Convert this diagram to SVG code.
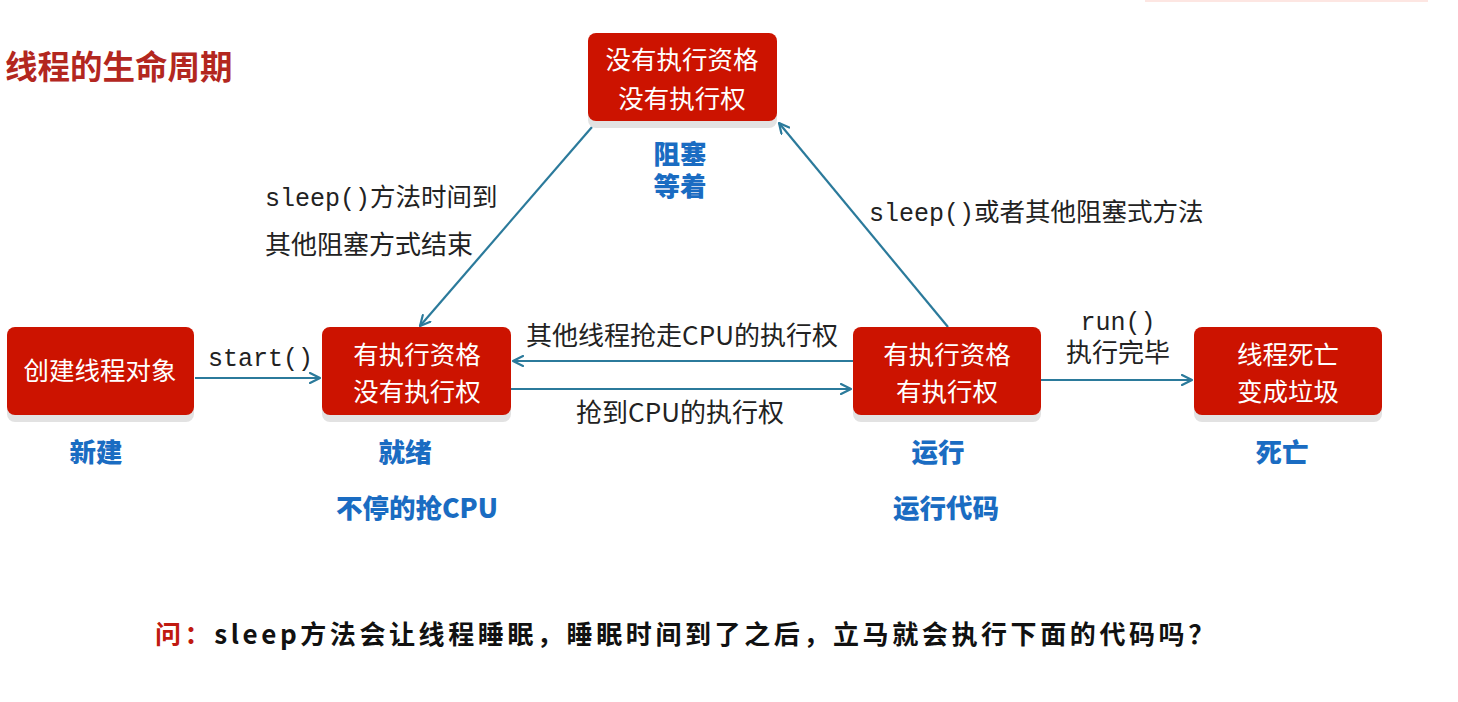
<svg xmlns="http://www.w3.org/2000/svg" width="1458" height="702" viewBox="0 0 1458 702">
<defs>
<marker id="ah" viewBox="0 0 12 12" refX="11" refY="6" markerWidth="12" markerHeight="12" markerUnits="userSpaceOnUse" orient="auto">
<path d="M1,1 L11,6 L1,11" fill="none" stroke="#2b7a9b" stroke-width="2.2" stroke-linecap="round" stroke-linejoin="round"/>
</marker>
</defs>
<style>
.box{fill:#cc1300}
.sh{fill:#e2e2e2}
.nt{font-family:"Noto Sans CJK SC","Liberation Sans",sans-serif;font-size:25.5px;fill:#ffffff;text-anchor:middle}
.bl{font-family:"Noto Sans CJK SC","Liberation Sans",sans-serif;font-size:26.5px;font-weight:900;fill:#1a6cc2;text-anchor:middle}
.lb{font-family:"Noto Sans CJK SC","Liberation Sans",sans-serif;font-size:26px;fill:#222222}
.mono{font-family:"Liberation Mono","DejaVu Sans Mono","Noto Sans CJK SC",monospace;font-size:25px;fill:#222222}
.c{stroke:#2b7a9b;stroke-width:2.2;fill:none;marker-end:url(#ah)}
</style>
<rect width="1458" height="702" fill="#ffffff"/>
<rect x="1145" y="0" width="283" height="2" fill="#fde6e2"/>
<text x="5" y="79" font-family="Noto Sans CJK SC, Liberation Sans, sans-serif" font-size="32.5" font-weight="700" fill="#b3271f">线程的生命周期</text>

<g id="connectors">
<line class="c" x1="195" y1="378" x2="320" y2="378"/>
<line class="c" x1="853" y1="361" x2="513" y2="361"/>
<line class="c" x1="511" y1="389" x2="851" y2="389"/>
<line class="c" x1="1041" y1="380" x2="1192" y2="380"/>
<line class="c" x1="592" y1="127" x2="420" y2="326"/>
<line class="c" x1="948" y1="327" x2="779" y2="123"/>
<text class="mono" x="208" y="366">start()</text>
<text class="lb" x="682" y="345" text-anchor="middle">其他线程抢走CPU的执行权</text>
<text class="lb" x="680" y="422" text-anchor="middle">抢到CPU的执行权</text>
<text class="mono" x="1118" y="330" text-anchor="middle">run()</text>
<text class="lb" x="1118" y="362" text-anchor="middle">执行完毕</text>
<text class="mono" x="265" y="206">sleep()<tspan style="font-family:'Noto Sans CJK SC',sans-serif;font-size:25.5px">方法时间到</tspan></text>
<text class="lb" x="265" y="254">其他阻塞方式结束</text>
<text class="mono" x="869" y="221">sleep()<tspan style="font-family:'Noto Sans CJK SC',sans-serif;font-size:25.5px">或者其他阻塞式方法</tspan></text>
</g>

<g id="node-blocked">
<rect class="sh" x="588" y="40" width="189" height="88" rx="8"/>
<rect class="box" x="588" y="33" width="189" height="88" rx="8"/>
<text class="nt" x="682" y="69">没有执行资格</text>
<text class="nt" x="682" y="108">没有执行权</text>
<text class="bl" x="680" y="164">阻塞</text>
<text class="bl" x="680" y="196">等着</text>
</g>

<g id="node-new">
<rect class="sh" x="7" y="334" width="187" height="88" rx="8"/>
<rect class="box" x="7" y="327" width="187" height="88" rx="8"/>
<text class="nt" x="100" y="380">创建线程对象</text>
<text class="bl" x="96" y="462">新建</text>
</g>

<g id="node-ready">
<rect class="sh" x="322" y="334" width="189" height="88" rx="8"/>
<rect class="box" x="322" y="327" width="189" height="88" rx="8"/>
<text class="nt" x="417" y="364">有执行资格</text>
<text class="nt" x="417" y="401">没有执行权</text>
<text class="bl" x="405" y="462">就绪</text>
<text class="bl" x="417" y="518">不停的抢CPU</text>
</g>

<g id="node-running">
<rect class="sh" x="853" y="334" width="188" height="88" rx="8"/>
<rect class="box" x="853" y="327" width="188" height="88" rx="8"/>
<text class="nt" x="947" y="364">有执行资格</text>
<text class="nt" x="947" y="401">有执行权</text>
<text class="bl" x="938" y="462">运行</text>
<text class="bl" x="946" y="518">运行代码</text>
</g>

<g id="node-dead">
<rect class="sh" x="1194" y="334" width="188" height="88" rx="8"/>
<rect class="box" x="1194" y="327" width="188" height="88" rx="8"/>
<text class="nt" x="1288" y="364">线程死亡</text>
<text class="nt" x="1288" y="401">变成垃圾</text>
<text class="bl" x="1282" y="462">死亡</text>
</g>

<text x="155" y="644" font-family="Noto Sans CJK SC, sans-serif" font-size="26" font-weight="700" letter-spacing="3.6" fill="#c01a10">问：<tspan fill="#111111">sleep方法会让线程睡眠，睡眠时间到了之后，立马就会执行下面的代码吗？</tspan></text>
</svg>
